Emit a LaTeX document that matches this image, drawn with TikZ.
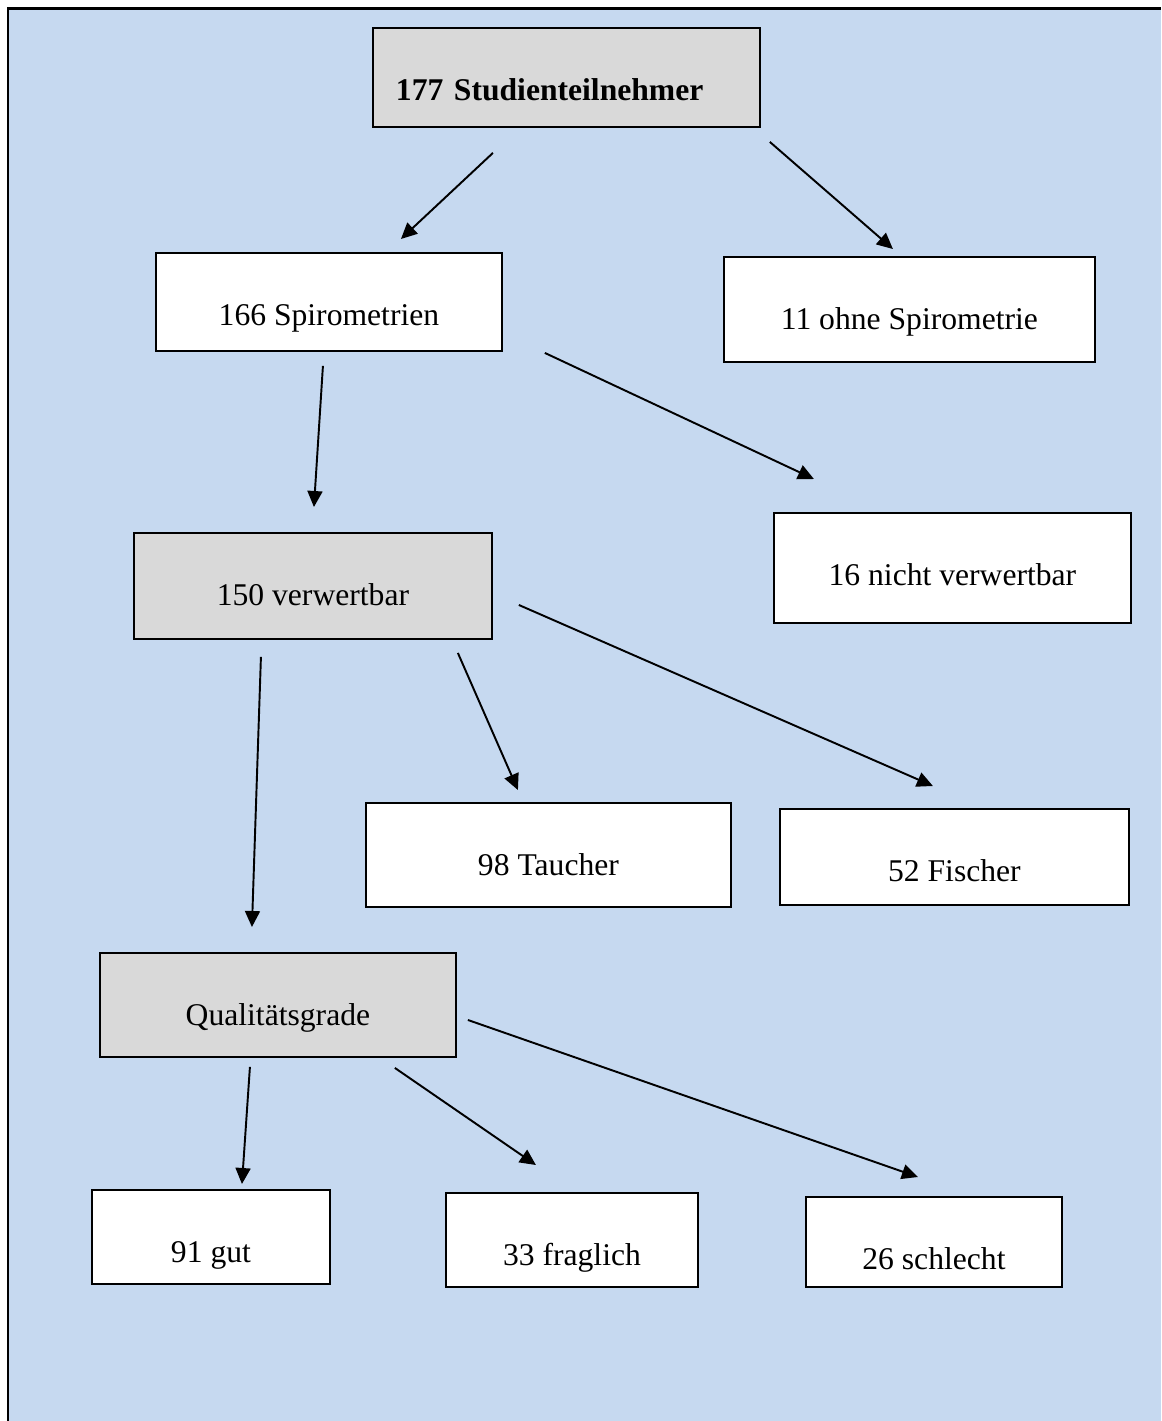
\documentclass[tikz,border=0pt]{standalone}
\usepackage{fontspec}
\setmainfont{Liberation Serif}
\usetikzlibrary{arrows.meta}
\definecolor{myBlue}{RGB}{198,217,240}
\definecolor{myGray}{RGB}{217,217,217}

\tikzset{
  box/.style={draw, line width=1.1pt, fill=white, inner sep=0pt, anchor=north west,
    text height=1.46cm, font=\fontsize{18}{22}\selectfont},
  graybox/.style={box, fill=myGray},
  pfeil/.style={line width=1.1pt, -{Triangle[length=0.32cm, width=0.3cm]}}
}

\begin{document}
\begin{tikzpicture}[x=0.02cm, y=-0.02cm]
  \useasboundingbox (0,0) rectangle (1161,1421);
  % Hintergrund
  \fill[myBlue] (8,8) rectangle (1161,1421);
  \draw[line width=1.7pt] (8,1421) -- (8,8) -- (1161,8);
  % Kaesten
  \node[graybox, minimum width=7.74cm, text depth=0.52cm, text width=6.82cm, align=left] (teiln) at (372,27) {\textbf{177 Studienteilnehmer}};
  \node[box, minimum width=6.92cm, text depth=0.50cm] (spiro) at (155,252) {166 Spirometrien};
  \node[box, minimum width=7.42cm, text depth=0.64cm] (ohne) at (723,256) {11 ohne Spirometrie};
  \node[graybox, minimum width=7.16cm, text depth=0.66cm] (verw) at (133,532) {150 verwertbar};
  \node[box, minimum width=7.14cm, text depth=0.74cm] (nicht) at (773,512) {16 nicht verwertbar};
  \node[box, minimum width=7.30cm, text depth=0.62cm] (taucher) at (365,802) {98 Taucher};
  \node[box, minimum width=6.98cm, text depth=0.46cm] (fischer) at (779,808) {52 Fischer};
  \node[graybox, minimum width=7.12cm, text depth=0.62cm] (qual) at (99,952) {Qualitätsgrade};
  \node[box, minimum width=4.76cm, text depth=0.42cm] (gut) at (91,1189) {91 gut};
  \node[box, minimum width=5.04cm, text depth=0.42cm] (fragl) at (445,1192) {33 fraglich};
  \node[box, minimum width=5.12cm, text depth=0.34cm] (schlecht) at (805,1196) {26 schlecht};
  % Pfeile
  \draw[pfeil] ([shift={(-73.5,25)}]teiln.south) -- ([shift={(72,-13)}]spiro.north);
  \draw[pfeil] ([shift={(9,14)}]teiln.south east) -- ([shift={(-16.5,-7)}]ohne.north);
  \draw[pfeil] ([shift={(-6,14)}]spiro.south) -- ([shift={(1,-25)}]verw.north);
  \draw[pfeil] ([shift={(42,1)}]spiro.south east) -- ([shift={(-138.5,-33)}]nicht.north);
  \draw[pfeil] ([shift={(-52,17)}]verw.south) -- ([shift={(-26,-25)}]qual.north);
  \draw[pfeil] ([shift={(-35,13)}]verw.south east) -- ([shift={(-30.5,-12)}]taucher.north);
  \draw[pfeil] ([shift={(26,19)}]verw.east) -- ([shift={(-21.5,-22)}]fischer.north);
  \draw[pfeil] ([shift={(-28,9)}]qual.south) -- ([shift={(31,-5)}]gut.north);
  \draw[pfeil] ([shift={(-62,10)}]qual.south east) -- ([shift={(-36,-27)}]fragl.north);
  \draw[pfeil] ([shift={(11,15)}]qual.east) -- ([shift={(-16,-19)}]schlecht.north);
\end{tikzpicture}
\end{document}
